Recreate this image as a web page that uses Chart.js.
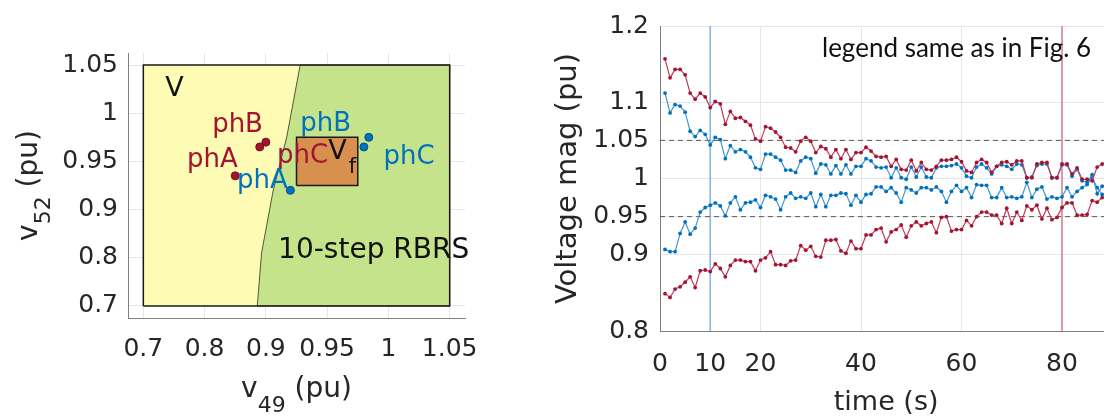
<!DOCTYPE html>
<html>
<head>
<meta charset="utf-8">
<script src="https://cdn.jsdelivr.net/npm/chart.js@4.4.1/dist/chart.umd.min.js"></script>
<style>
  html, body { margin: 0; padding: 0; background: #fff; overflow: hidden; }
  #wrap { position: relative; width: 1104px; height: 416px; overflow: hidden; }
  #regionChart { position: absolute; left: 0; top: 0; }
  #voltChart { position: absolute; left: 540px; top: 0; }
</style>
</head>
<body>
<div id="wrap">
  <canvas id="regionChart" width="540" height="416"></canvas>
  <canvas id="voltChart" width="600" height="416"></canvas>
</div>
<script>
// --- Left panel: feasible regions in (v49, v52) ---
const regionTicks = [0.7, 0.8, 0.9, 0.95, 1, 1.05];
const regionTickLabels = ['0.7', '0.8', '0.9', '0.95', '1', '1.05'];
const boxV = [[0.7, 0.7], [0.7, 1.05], [1.05, 1.05], [1.05, 0.7], [0.7, 0.7]];
const rbrsEdge = [[0.928, 1.05], [0.917, 0.975], [0.906, 0.92], [0.893, 0.81], [0.886, 0.7]];
const boxVf = [[0.925, 0.925], [0.925, 0.975], [0.975, 0.975], [0.975, 0.925], [0.925, 0.925]];
const redV49 = [0.85, 0.89, 0.90];
const redV52 = [0.935, 0.965, 0.97];
const blueV49 = [0.92, 0.98, 0.984];
const blueV52 = [0.92, 0.965, 0.975];

// --- Right panel: voltage magnitudes over time ---
const times = [1, 2, 3, 4, 5, 6, 7, 8, 9, 10, 11, 12, 13, 14, 15, 16, 17, 18, 19, 20,
  21, 22, 23, 24, 25, 26, 27, 28, 29, 30, 31, 32, 33, 34, 35, 36, 37, 38, 39, 40,
  41, 42, 43, 44, 45, 46, 47, 48, 49, 50, 51, 52, 53, 54, 55, 56, 57, 58, 59, 60,
  61, 62, 63, 64, 65, 66, 67, 68, 69, 70, 71, 72, 73, 74, 75, 76, 77, 78, 79, 80,
  81, 82, 83, 84, 85, 86, 87, 88];
const redUpper = [1.157, 1.132, 1.143, 1.143, 1.136, 1.112, 1.104, 1.112, 1.107, 1.093,
  1.101, 1.098, 1.071, 1.088, 1.079, 1.080, 1.075, 1.070, 1.052, 1.049,
  1.068, 1.066, 1.061, 1.054, 1.041, 1.040, 1.035, 1.049, 1.054, 1.049,
  1.034, 1.042, 1.039, 1.028, 1.038, 1.026, 1.038, 1.025, 1.034, 1.034,
  1.041, 1.036, 1.029, 1.028, 1.029, 1.016, 1.025, 1.012, 1.011, 1.024,
  1.010, 1.021, 1.012, 1.011, 1.016, 1.024, 1.024, 1.025, 1.028, 1.022,
  1.010, 1.008, 1.021, 1.025, 1.021, 1.008, 1.016, 1.021, 1.022, 1.018,
  1.023, 1.023, 1.001, 1.001, 1.019, 1.021, 1.021, 1.001, 1.001, 1.019,
  1.019, 1.006, 1.014, 0.999, 0.999, 0.997, 1.015, 1.019];
const blueUpper = [1.112, 1.086, 1.097, 1.095, 1.087, 1.062, 1.055, 1.063, 1.058, 1.044,
  1.054, 1.051, 1.026, 1.043, 1.035, 1.038, 1.035, 1.028, 1.014, 1.012,
  1.032, 1.032, 1.028, 1.024, 1.011, 1.011, 1.008, 1.023, 1.028, 1.026,
  1.007, 1.019, 1.018, 1.006, 1.017, 1.006, 1.018, 1.006, 1.016, 1.016,
  1.026, 1.023, 1.015, 1.014, 1.015, 1.001, 1.014, 1.001, 0.999, 1.015,
  1.002, 1.015, 1.002, 1.001, 1.014, 1.016, 1.016, 1.017, 1.019, 1.014,
  1.003, 1.001, 1.015, 1.019, 1.014, 1.006, 1.016, 1.018, 1.016, 1.012,
  1.019, 1.018, 1.001, 1.002, 1.017, 1.019, 1.019, 1.001, 1.001, 1.018,
  1.018, 1.003, 1.012, 0.997, 0.995, 1.005, 0.980, 0.990];
const blueLower = [0.907, 0.904, 0.904, 0.928, 0.943, 0.927, 0.935, 0.956, 0.962, 0.965,
  0.968, 0.964, 0.951, 0.968, 0.976, 0.959, 0.968, 0.969, 0.972, 0.962,
  0.978, 0.976, 0.973, 0.959, 0.976, 0.981, 0.974, 0.976, 0.974, 0.981,
  0.963, 0.979, 0.963, 0.978, 0.978, 0.981, 0.980, 0.965, 0.978, 0.969,
  0.979, 0.980, 0.989, 0.989, 0.983, 0.988, 0.981, 0.969, 0.988, 0.985,
  0.981, 0.988, 0.988, 0.985, 0.989, 0.983, 0.969, 0.983, 0.991, 0.983,
  0.988, 0.975, 0.992, 0.991, 0.991, 0.975, 0.975, 0.988, 0.975, 0.976,
  0.974, 0.976, 0.995, 0.975, 0.986, 0.989, 0.973, 0.976, 0.974, 0.976,
  0.988, 0.976, 0.983, 0.988, 0.992, 1.001, 0.988, 0.979];
const redLower = [0.849, 0.844, 0.855, 0.858, 0.864, 0.871, 0.857, 0.879, 0.880, 0.878,
  0.888, 0.882, 0.871, 0.886, 0.893, 0.893, 0.891, 0.891, 0.879, 0.893,
  0.896, 0.904, 0.887, 0.887, 0.886, 0.892, 0.893, 0.912, 0.906, 0.911,
  0.898, 0.897, 0.919, 0.919, 0.920, 0.905, 0.902, 0.918, 0.908, 0.908,
  0.926, 0.926, 0.933, 0.935, 0.917, 0.930, 0.933, 0.939, 0.923, 0.938,
  0.943, 0.938, 0.941, 0.943, 0.929, 0.949, 0.950, 0.931, 0.933, 0.933,
  0.945, 0.938, 0.950, 0.956, 0.956, 0.952, 0.952, 0.941, 0.961, 0.941,
  0.956, 0.945, 0.964, 0.959, 0.965, 0.947, 0.961, 0.946, 0.949, 0.962,
  0.968, 0.968, 0.952, 0.952, 0.953, 0.971, 0.969, 0.975];
const voltTicks = [0.8, 0.9, 0.95, 1, 1.05, 1.1, 1.2];
const timeTicks = [0, 10, 20, 40, 60, 80];
const voltLimits = [0.95, 1.05];
const blueStepTime = 10;
const redStepTime = 80;
const noteText = 'legend same as in Fig. 6';

const RED = '#a2142f', RED_LINE = '#c03a5a';
const BLUE = '#0072bd', BLUE_LINE = '#3f95d3';
const FONT = 'DejaVu Sans';

// piecewise-linear position of a pu value along the left panel's tick ladder
function toIdx(v) {
  for (let i = 1; i < regionTicks.length; i++) {
    if (v <= regionTicks[i]) {
      const a = regionTicks[i - 1], b = regionTicks[i];
      return i - 1 + (v - a) / (b - a);
    }
  }
  const n = regionTicks.length - 1;
  return n + (v - regionTicks[n]) / (regionTicks[n] - regionTicks[n - 1]);
}
const pt = p => ({ x: toIdx(p[0]), y: toIdx(p[1]) });
const greenPoly = rbrsEdge.concat([[1.05, 0.7], [1.05, 1.05], rbrsEdge[0]]);

const regionLabels = [
  { text: 'V', v49: 0.7356, v52: 1.018, color: '#111', size: 27 },
  { text: 'phB', v49: 0.8123, v52: 0.981, color: RED, size: 26 },
  { text: 'phA', v49: 0.7714, v52: 0.9438, color: RED, size: 26 },
  { text: 'phC', v49: 0.909, v52: 0.948, color: RED, size: 26 },
  { text: 'phB', v49: 0.928, v52: 0.982, color: BLUE, size: 26 },
  { text: 'phA', v49: 0.853, v52: 0.922, color: BLUE, size: 26 },
  { text: 'phC', v49: 0.996, v52: 0.947, color: BLUE, size: 26 },
  { text: '10-step RBRS', v49: 0.91, v52: 0.8, color: '#111', size: 28 }
];

function drawSubTitle(ctx, parts, cx, baseY) {
  let total = 0;
  parts.forEach(p => { ctx.font = p.size + 'px "' + FONT + '"'; p.w = ctx.measureText(p.text).width; total += p.w; });
  let x = cx - total / 2;
  parts.forEach(p => {
    ctx.font = p.size + 'px "' + FONT + '"';
    ctx.fillText(p.text, x, baseY + p.dy);
    x += p.w;
  });
}

const regionText = {
  id: 'regionText',
  afterDatasetsDraw(chart) {
    const ctx = chart.ctx, xs = chart.scales.x, ys = chart.scales.y;
    ctx.save();
    ctx.textBaseline = 'alphabetic';
    ctx.textAlign = 'left';
    regionLabels.forEach(l => {
      ctx.font = l.size + 'px "' + FONT + '"';
      ctx.fillStyle = l.color;
      ctx.fillText(l.text, xs.getPixelForValue(toIdx(l.v49)), ys.getPixelForValue(toIdx(l.v52)));
    });
    // V_f label
    const vx = xs.getPixelForValue(toIdx(0.951)), vy = ys.getPixelForValue(toIdx(0.953));
    ctx.fillStyle = '#111';
    ctx.font = '27px "' + FONT + '"';
    ctx.fillText('V', vx, vy);
    const vw = ctx.measureText('V').width;
    ctx.font = '21px "' + FONT + '"';
    ctx.fillText('f', vx + vw + 2, vy + 14);
    ctx.restore();
  },
  afterDraw(chart) {
    const ctx = chart.ctx, a = chart.chartArea;
    ctx.save();
    ctx.fillStyle = '#262626';
    ctx.textAlign = 'left';
    ctx.textBaseline = 'alphabetic';
    drawSubTitle(ctx, [
      { text: 'v', size: 28, dy: 0 }, { text: '49', size: 22, dy: 15 }, { text: ' (pu)', size: 28, dy: 0 }
    ], (a.left + a.right) / 2, 397);
    ctx.translate(37, (a.top + a.bottom) / 2);
    ctx.rotate(-Math.PI / 2);
    drawSubTitle(ctx, [
      { text: 'v', size: 28, dy: 0 }, { text: '52', size: 22, dy: 13 }, { text: ' (pu)', size: 28, dy: 0 }
    ], 0, 0);
    ctx.restore();
  }
};

const gridStyle = { color: '#e6e6e6', drawTicks: false };
const borderStyle = { color: '#808080', width: 1 };
const tickFont = { family: FONT, size: 25 };

new Chart(document.getElementById('regionChart'), {
  type: 'scatter',
  data: {
    datasets: [
      { data: boxV.map(pt), showLine: true, fill: 'shape', backgroundColor: '#fdfbb4', borderWidth: 0, pointRadius: 0, order: 5 },
      { data: greenPoly.map(pt), showLine: true, fill: 'shape', backgroundColor: '#c5e38b', borderColor: '#4f5a3c', borderWidth: 1, pointRadius: 0, order: 4 },
      { data: boxVf.map(pt), showLine: true, fill: 'shape', backgroundColor: '#d8904f', borderColor: '#1a1a1a', borderWidth: 1.5, pointRadius: 0, order: 3 },
      { data: boxV.map(pt), showLine: true, fill: false, borderColor: '#1a1a1a', borderWidth: 1.5, pointRadius: 0, order: 2 },
      { data: redV49.map((v, i) => pt([v, redV52[i]])), showLine: false, pointRadius: 4, backgroundColor: RED, borderColor: '#7a0f22', borderWidth: 1, order: 1 },
      { data: blueV49.map((v, i) => pt([v, blueV52[i]])), showLine: false, pointRadius: 4, backgroundColor: BLUE, borderColor: '#0a4f80', borderWidth: 1, order: 1 }
    ]
  },
  options: {
    responsive: false, animation: false, devicePixelRatio: 1,
    layout: { padding: { left: 0, top: 53, right: 75, bottom: 0 } },
    plugins: { legend: { display: false }, tooltip: { enabled: false } },
    scales: {
      x: {
        type: 'linear', min: -0.25, max: 5.25,
        afterBuildTicks: s => { s.ticks = regionTicks.map((v, i) => ({ value: i })); },
        afterFit: s => { s.height = 98; },
        ticks: { callback: v => regionTickLabels[v], color: '#262626', font: tickFont, padding: 16, maxRotation: 0, autoSkip: false },
        grid: gridStyle, border: borderStyle
      },
      y: {
        type: 'linear', min: -0.25, max: 5.25,
        afterBuildTicks: s => { s.ticks = regionTicks.map((v, i) => ({ value: i })); },
        afterFit: s => { s.width = 128; },
        ticks: { callback: v => regionTickLabels[v], color: '#262626', font: tickFont, padding: 10, autoSkip: false },
        grid: gridStyle, border: borderStyle
      }
    }
  },
  plugins: [regionText]
});

// --- right panel ---
const toXY = ys => ys.map((v, i) => ({ x: times[i], y: v }));
const seriesStyle = (line, marker) => ({
  showLine: true, borderColor: line, borderWidth: 1.2, pointRadius: 1.9,
  pointBackgroundColor: marker, pointBorderWidth: 0, tension: 0, order: 1
});

const noteLabel = {
  id: 'noteLabel',
  afterDraw(chart) {
    const ctx = chart.ctx;
    ctx.save();
    ctx.font = '26px Lato';
    ctx.fillStyle = '#111';
    ctx.textBaseline = 'alphabetic';
    ctx.textAlign = 'left';
    ctx.fillText(noteText, 282, 57);
    ctx.restore();
  }
};

new Chart(document.getElementById('voltChart'), {
  type: 'scatter',
  data: {
    datasets: [
      Object.assign({ data: toXY(redUpper) }, seriesStyle(RED_LINE, RED)),
      Object.assign({ data: toXY(blueUpper) }, seriesStyle(BLUE_LINE, BLUE)),
      Object.assign({ data: toXY(blueLower) }, seriesStyle(BLUE_LINE, BLUE)),
      Object.assign({ data: toXY(redLower) }, seriesStyle(RED_LINE, RED)),
      ...voltLimits.map(v => ({
        data: [{ x: 0, y: v }, { x: 90, y: v }], showLine: true, borderColor: '#5a5a5a',
        borderWidth: 1, borderDash: [5, 4], pointRadius: 0, order: 2
      })),
      { data: [{ x: blueStepTime, y: 0.8 }, { x: blueStepTime, y: 1.2 }], showLine: true, borderColor: '#86b6de', borderWidth: 1.6, pointRadius: 0, order: 3 },
      { data: [{ x: redStepTime, y: 0.8 }, { x: redStepTime, y: 1.2 }], showLine: true, borderColor: '#d8849a', borderWidth: 1.6, pointRadius: 0, order: 3 }
    ]
  },
  options: {
    responsive: false, animation: false, devicePixelRatio: 1,
    layout: { padding: { left: 0, top: 20, right: 27.75, bottom: 0 } },
    plugins: { legend: { display: false }, tooltip: { enabled: false } },
    scales: {
      x: {
        type: 'linear', min: 0, max: 90,
        afterBuildTicks: s => { s.ticks = timeTicks.map(v => ({ value: v })); },
        afterFit: s => { s.height = 85; },
        ticks: { color: '#262626', font: tickFont, padding: 18, maxRotation: 0, autoSkip: false },
        grid: gridStyle, border: borderStyle,
        title: { display: true, text: 'time (s)', color: '#262626', font: { family: FONT, size: 27, lineHeight: 1 }, padding: { top: 0, bottom: 0 } }
      },
      y: {
        type: 'linear', min: 0.8, max: 1.2,
        afterBuildTicks: s => { s.ticks = voltTicks.map(v => ({ value: v })); },
        afterFit: s => { s.width = 120; },
        ticks: { callback: v => String(v), color: '#262626', font: tickFont, padding: 11, autoSkip: false },
        grid: gridStyle, border: borderStyle,
        title: { display: true, text: 'Voltage mag (pu)', color: '#262626', font: { family: FONT, size: 29, lineHeight: 1 }, padding: { top: 13.5, bottom: 0 } }
      }
    }
  },
  plugins: [noteLabel]
});
</script>
</body>
</html>
